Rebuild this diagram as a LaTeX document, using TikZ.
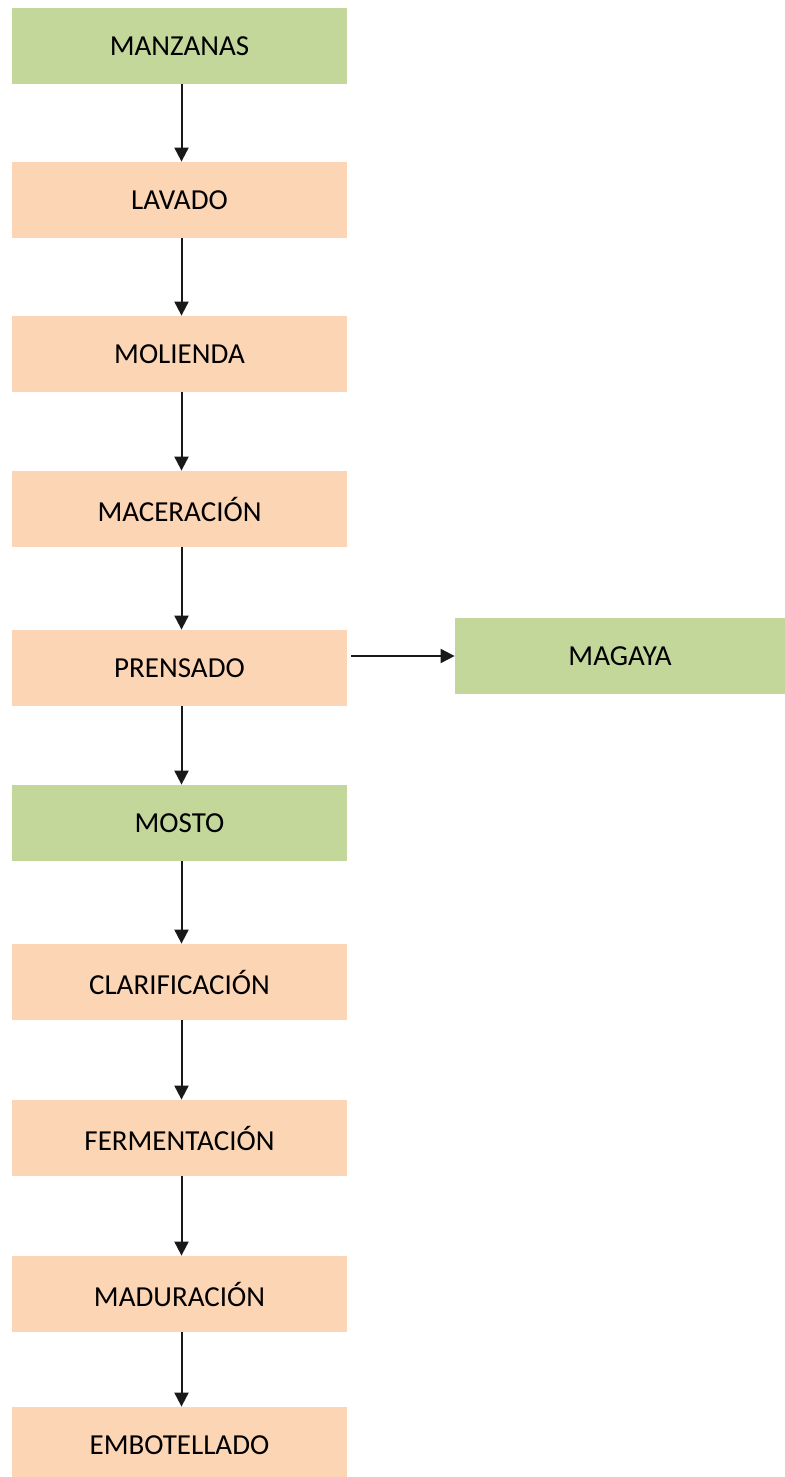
\documentclass[tikz,border=0pt]{standalone}
\usepackage{fontspec}
\setmainfont{Carlito}
\usetikzlibrary{arrows.meta}

\definecolor{verde}{HTML}{C4D79B}
\definecolor{salmon}{HTML}{FCD5B4}

\tikzset{
  etapa/.style={fill=salmon, minimum width=167.5pt, minimum height=38pt, inner sep=0pt, font=\fontsize{14.5}{17}\selectfont},
  producto/.style={etapa, fill=verde},
  flecha/.style={-{Triangle[length=7pt,width=7pt]}, line width=1pt, black!90}
}

\begin{document}
\begin{tikzpicture}[x=0.5pt,y=-0.5pt]
  \useasboundingbox (0,0) rectangle (785,1477);

  \node[producto] (manzanas) at (179.5,46) {MANZANAS};
  \node[etapa] (lavado) at (179.5,200) {LAVADO};
  \node[etapa] (molienda) at (179.5,354) {MOLIENDA};
  \node[etapa] (maceracion) at (179.5,509) {MACERACIÓN};
  \node[etapa] (prensado) at (179.5,668) {PRENSADO};
  \node[producto, minimum width=165pt] (magaya) at (620,656) {MAGAYA};
  \node[producto] (mosto) at (179.5,823) {MOSTO};
  \node[etapa] (clarificacion) at (179.5,982) {CLARIFICACIÓN};
  \node[etapa] (fermentacion) at (179.5,1138) {FERMENTACIÓN};
  \node[etapa] (maduracion) at (179.5,1294) {MADURACIÓN};
  \node[etapa] (embotellado) at (179.5,1445) {EMBOTELLADO};

  \foreach \a/\b in {manzanas/lavado, lavado/molienda, molienda/maceracion,
    maceracion/prensado, prensado/mosto, mosto/clarificacion,
    clarificacion/fermentacion, fermentacion/maduracion, maduracion/embotellado}
    \draw[flecha] ([xshift=1pt]\a.south) -- ([xshift=1pt]\b.north);

  \coordinate (salida) at ([xshift=2pt]prensado.east |- magaya.west);
  \draw[flecha] (salida) -- (magaya.west);
\end{tikzpicture}
\end{document}
